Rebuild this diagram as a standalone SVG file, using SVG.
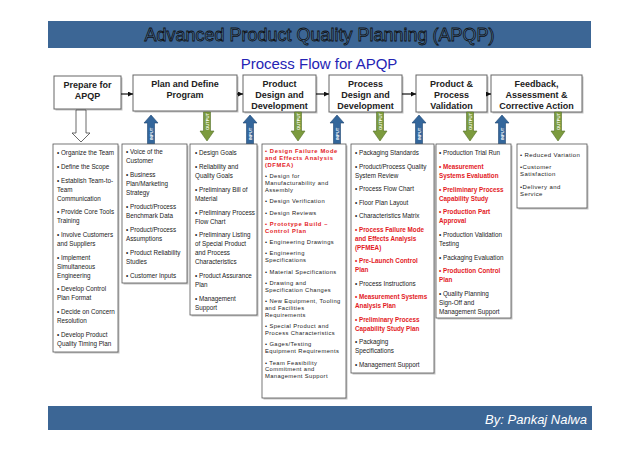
<svg xmlns="http://www.w3.org/2000/svg" xmlns:xlink="http://www.w3.org/1999/xlink" width="638" height="452" viewBox="0 0 638 452">
<style>
  .bar { fill: #3c6695; }
  .title { font-family: "Liberation Sans", Arial, sans-serif; font-size: 18px; fill: #4a76a6; stroke: #111; stroke-width: 0.8px; text-anchor: middle; }
  .sub { font-family: "Liberation Sans", Arial, sans-serif; font-size: 15px; fill: #2424b4; text-anchor: middle; }
  .by { font-family: "Liberation Sans", Arial, sans-serif; font-size: 13px; font-style: italic; fill: #ffffff; text-anchor: end; }
  .sbox { fill: #ffffff; stroke: #666; stroke-width: 1; }
  .shadow { fill: #c4c4c4; }
  .stxt { font-family: "Liberation Sans", Arial, sans-serif; font-size: 9px; font-weight: bold; fill: #222; text-anchor: middle; }
  .lbox { fill: #ffffff; stroke: #555; stroke-width: 0.8; }
  .t { font-family: "Liberation Sans", Arial, sans-serif; font-size: 6.3px; fill: #222; }
  .r { fill: #e3191e; font-weight: bold; }
  .d { font-size: 5.8px; letter-spacing: 0.4px; }
  .dr { letter-spacing: 0.6px; }
  .g { font-size: 6px; letter-spacing: 0.4px; }
  .conn { stroke: #111; stroke-width: 1.2; fill: none; }
  .in { fill: #33669b; stroke: #1f4470; stroke-width: 0.6; }
  .out { fill: #7c9b3e; stroke: #55702a; stroke-width: 0.6; }
  .hollow { fill: #ffffff; stroke: #444; stroke-width: 0.8; }
  .io { font-family: "Liberation Sans", Arial, sans-serif; font-size: 4.2px; font-weight: bold; fill: #ffffff; text-anchor: middle; }
</style>
<defs>
  <marker id="ah" markerWidth="5" markerHeight="5" refX="5" refY="2.5" orient="auto" markerUnits="userSpaceOnUse">
    <path d="M0,0 L5,2.5 L0,5 Z" fill="#111"/>
  </marker>
  <path id="inArrow" d="M0,0 L7,8 L3.5,8 L3.5,30 L-3.5,30 L-3.5,8 L-7,8 Z"/>
  <path id="outArrow" d="M-3.5,0 L3.5,0 L3.5,19 L7,19 L0,29 L-7,19 L-3.5,19 Z"/>
</defs>

<g id="header">
  <rect class="bar" x="48" y="21" width="543" height="27"/>
  <text class="title" x="319.5" y="41">Advanced Product Quality Planning (APQP)</text>
  <text class="sub" x="319" y="68.5">Process Flow for APQP</text>
</g>

<g id="stage-prepare">
  <rect class="shadow" x="55.5" y="77.5" width="67" height="33"/>
  <rect class="sbox" x="54" y="76" width="67" height="33"/>
  <text class="stxt" x="87.5" y="88">Prepare for</text>
  <text class="stxt" x="87.5" y="99">APQP</text>
</g>
<g id="stage-plan">
  <rect class="shadow" x="134.5" y="76.5" width="104" height="36"/>
  <rect class="sbox" x="133" y="75" width="104" height="36"/>
  <text class="stxt" x="185" y="86.5">Plan and Define</text>
  <text class="stxt" x="185" y="97.5">Program</text>
</g>
<g id="stage-product">
  <rect class="shadow" x="244.5" y="76.5" width="73" height="37"/>
  <rect class="sbox" x="243" y="75" width="73" height="37"/>
  <text class="stxt" x="279.5" y="86.5">Product</text>
  <text class="stxt" x="279.5" y="98">Design and</text>
  <text class="stxt" x="279.5" y="109">Development</text>
</g>
<g id="stage-process">
  <rect class="shadow" x="330.5" y="76.5" width="73" height="37"/>
  <rect class="sbox" x="329" y="75" width="73" height="37"/>
  <text class="stxt" x="365.5" y="86.5">Process</text>
  <text class="stxt" x="365.5" y="98">Design and</text>
  <text class="stxt" x="365.5" y="109">Development</text>
</g>
<g id="stage-validation">
  <rect class="shadow" x="417.5" y="76.5" width="71" height="37"/>
  <rect class="sbox" x="416" y="75" width="71" height="37"/>
  <text class="stxt" x="451.5" y="86.5">Product &amp;</text>
  <text class="stxt" x="451.5" y="98">Process</text>
  <text class="stxt" x="451.5" y="109">Validation</text>
</g>
<g id="stage-feedback">
  <rect class="shadow" x="492.5" y="76.5" width="91" height="37"/>
  <rect class="sbox" x="491" y="75" width="91" height="37"/>
  <text class="stxt" x="536.5" y="86.5">Feedback,</text>
  <text class="stxt" x="536.5" y="98">Assessment &amp;</text>
  <text class="stxt" x="536.5" y="108.5">Corrective Action</text>
</g>

<g id="connectors">
  <line class="conn" x1="121" y1="94" x2="133" y2="94" marker-end="url(#ah)"/>
  <line class="conn" x1="237" y1="94" x2="243" y2="94" marker-end="url(#ah)"/>
  <line class="conn" x1="316" y1="94" x2="329" y2="94" marker-end="url(#ah)"/>
  <line class="conn" x1="402" y1="94" x2="416" y2="94" marker-end="url(#ah)"/>
  <line class="conn" x1="487" y1="94" x2="491" y2="94" marker-end="url(#ah)"/>
  <path class="hollow" d="M76,110 L86,110 L86,133 L90,133 L81,142 L72,133 L76,133 Z"/>
  <use href="#inArrow" class="in" x="151" y="115"/>
  <text class="io" transform="translate(151,134) rotate(-90)" dy="1.5">INPUT</text>
  <use href="#outArrow" class="out" x="207" y="112"/>
  <text class="io" transform="translate(207,121.5) rotate(-90)" dy="1.5">OUTPUT</text>
  <use href="#inArrow" class="in" x="250" y="115"/>
  <text class="io" transform="translate(250,134) rotate(-90)" dy="1.5">INPUT</text>
  <use href="#outArrow" class="out" x="298" y="112"/>
  <text class="io" transform="translate(298,121.5) rotate(-90)" dy="1.5">OUTPUT</text>
  <use href="#inArrow" class="in" x="337" y="115"/>
  <text class="io" transform="translate(337,134) rotate(-90)" dy="1.5">INPUT</text>
  <use href="#outArrow" class="out" x="380" y="112"/>
  <text class="io" transform="translate(380,121.5) rotate(-90)" dy="1.5">OUTPUT</text>
  <use href="#inArrow" class="in" x="419" y="115"/>
  <text class="io" transform="translate(419,134) rotate(-90)" dy="1.5">INPUT</text>
  <use href="#outArrow" class="out" x="470" y="112"/>
  <text class="io" transform="translate(470,121.5) rotate(-90)" dy="1.5">OUTPUT</text>
  <use href="#inArrow" class="in" x="502" y="115"/>
  <text class="io" transform="translate(502,134) rotate(-90)" dy="1.5">INPUT</text>
  <use href="#outArrow" class="out" x="558" y="112"/>
  <text class="io" transform="translate(558,121.5) rotate(-90)" dy="1.5">OUTPUT</text>
</g>

<g id="list-prepare">
  <rect class="shadow" x="54.5" y="145.5" width="65" height="208"/>
  <rect class="lbox" x="53" y="144" width="65" height="208"/>
  <text class="t" x="57" y="155.2">• Organize the Team</text>
  <text class="t" x="57" y="168.9">• Define the Scope</text>
  <text class="t"><tspan x="57" y="182.6">• Establish Team-to-</tspan><tspan x="57" y="191.6">Team</tspan><tspan x="57" y="200.6">Communication</tspan></text>
  <text class="t"><tspan x="57" y="214.3">• Provide Core Tools</tspan><tspan x="57" y="223.3">Training</tspan></text>
  <text class="t"><tspan x="57" y="237">• Involve Customers</tspan><tspan x="57" y="246">and Suppliers</tspan></text>
  <text class="t"><tspan x="57" y="259.7">• Implement</tspan><tspan x="57" y="268.7">Simultaneous</tspan><tspan x="57" y="277.7">Engineering</tspan></text>
  <text class="t"><tspan x="57" y="291.4">• Develop Control</tspan><tspan x="57" y="300.4">Plan Format</tspan></text>
  <text class="t"><tspan x="57" y="314.1">• Decide on Concern</tspan><tspan x="57" y="323.1">Resolution</tspan></text>
  <text class="t"><tspan x="57" y="336.8">• Develop Product</tspan><tspan x="57" y="345.8">Quality Timing Plan</tspan></text>
</g>

<g id="list-plan">
  <rect class="shadow" x="123.5" y="145.5" width="65" height="139"/>
  <rect class="lbox" x="122" y="144" width="65" height="139"/>
  <text class="t"><tspan x="126" y="154.2">• Voice of the</tspan><tspan x="126" y="163.2">Customer</tspan></text>
  <text class="t"><tspan x="126" y="177.2">• Business</tspan><tspan x="126" y="186.2">Plan/Marketing</tspan><tspan x="126" y="195.2">Strategy</tspan></text>
  <text class="t"><tspan x="126" y="209.2">• Product/Process</tspan><tspan x="126" y="218.2">Benchmark Data</tspan></text>
  <text class="t"><tspan x="126" y="232.2">• Product/Process</tspan><tspan x="126" y="241.2">Assumptions</tspan></text>
  <text class="t"><tspan x="126" y="255.2">• Product Reliability</tspan><tspan x="126" y="264.2">Studies</tspan></text>
  <text class="t" x="126" y="278.2">• Customer Inputs</text>
</g>

<g id="list-product">
  <rect class="shadow" x="191.5" y="145.5" width="67" height="171"/>
  <rect class="lbox" x="190" y="144" width="67" height="171"/>
  <text class="t" x="195" y="155.2">• Design Goals</text>
  <text class="t"><tspan x="195" y="169">• Reliability and</tspan><tspan x="195" y="178">Quality Goals</tspan></text>
  <text class="t"><tspan x="195" y="191.8">• Preliminary Bill of</tspan><tspan x="195" y="200.8">Material</tspan></text>
  <text class="t"><tspan x="195" y="214.6">• Preliminary Process</tspan><tspan x="195" y="223.6">Flow Chart</tspan></text>
  <text class="t"><tspan x="195" y="237.4">• Preliminary Listing</tspan><tspan x="195" y="246.4">of Special Product</tspan><tspan x="195" y="255.4">and Process</tspan><tspan x="195" y="264.4">Characteristics</tspan></text>
  <text class="t"><tspan x="195" y="278.2">• Product Assurance</tspan><tspan x="195" y="287.2">Plan</tspan></text>
  <text class="t"><tspan x="195" y="301">• Management</tspan><tspan x="195" y="310">Support</tspan></text>
</g>

<g id="list-design">
  <rect class="shadow" x="263.5" y="145.5" width="84" height="254"/>
  <rect class="lbox" x="262" y="144" width="84" height="254"/>
  <text class="t d r dr"><tspan x="265" y="153">• Design Failure Mode</tspan><tspan x="265" y="159.9">and Effects Analysis</tspan><tspan x="265" y="166.8">(DFMEA)</tspan></text>
  <text class="t d"><tspan x="265" y="178.1">• Design for</tspan><tspan x="265" y="185">Manufacturability and</tspan><tspan x="265" y="191.9">Assembly</tspan></text>
  <text class="t d" x="265" y="203.2">• Design Verification</text>
  <text class="t d" x="265" y="214.5">• Design Reviews</text>
  <text class="t d r dr"><tspan x="265" y="225.8">• Prototype Build –</tspan><tspan x="265" y="232.7">Control Plan</tspan></text>
  <text class="t d" x="265" y="244">• Engineering Drawings</text>
  <text class="t d"><tspan x="265" y="255.3">• Engineering</tspan><tspan x="265" y="262.2">Specifications</tspan></text>
  <text class="t d" x="265" y="273.5">• Material Specifications</text>
  <text class="t d"><tspan x="265" y="284.8">• Drawing and</tspan><tspan x="265" y="291.7">Specification Changes</tspan></text>
  <text class="t d"><tspan x="265" y="303">• New Equipment, Tooling</tspan><tspan x="265" y="309.9">and Facilities</tspan><tspan x="265" y="316.8">Requirements</tspan></text>
  <text class="t d"><tspan x="265" y="328.1">• Special Product and</tspan><tspan x="265" y="335">Process Characteristics</tspan></text>
  <text class="t d"><tspan x="265" y="346.3">• Gages/Testing</tspan><tspan x="265" y="353.2">Equipment Requirements</tspan></text>
  <text class="t d"><tspan x="265" y="364.5">• Team Feasibility</tspan><tspan x="265" y="371.4">Commitment and</tspan><tspan x="265" y="378.3">Management Support</tspan></text>
</g>

<g id="list-process">
  <rect class="shadow" x="352.5" y="145.5" width="83" height="229"/>
  <rect class="lbox" x="351" y="144" width="83" height="229"/>
  <text class="t" x="355" y="155.2">• Packaging Standards</text>
  <text class="t"><tspan x="355" y="168.7">• Product/Process Quality</tspan><tspan x="355" y="177.7">System Review</tspan></text>
  <text class="t" x="355" y="191.2">• Process Flow Chart</text>
  <text class="t" x="355" y="204.7">• Floor Plan Layout</text>
  <text class="t" x="355" y="218.2">• Characteristics Matrix</text>
  <text class="t r"><tspan x="355" y="231.7">• Process Failure Mode</tspan><tspan x="355" y="240.7">and Effects Analysis</tspan><tspan x="355" y="249.7">(PFMEA)</tspan></text>
  <text class="t r"><tspan x="355" y="263.2">• Pre-Launch Control</tspan><tspan x="355" y="272.2">Plan</tspan></text>
  <text class="t" x="355" y="285.7">• Process Instructions</text>
  <text class="t r"><tspan x="355" y="299.2">• Measurement Systems</tspan><tspan x="355" y="308.2">Analysis Plan</tspan></text>
  <text class="t r"><tspan x="355" y="321.7">• Preliminary Process</tspan><tspan x="355" y="330.7">Capability Study Plan</tspan></text>
  <text class="t"><tspan x="355" y="344.2">• Packaging</tspan><tspan x="355" y="353.2">Specifications</tspan></text>
  <text class="t" x="355" y="366.7">• Management Support</text>
</g>

<g id="list-validation">
  <rect class="shadow" x="437.5" y="145.5" width="75" height="174"/>
  <rect class="lbox" x="436" y="144" width="75" height="174"/>
  <text class="t" x="439" y="155.2">• Production Trial Run</text>
  <text class="t r"><tspan x="439" y="168.9">• Measurement</tspan><tspan x="439" y="177.9">Systems Evaluation</tspan></text>
  <text class="t r"><tspan x="439" y="191.6">• Preliminary Process</tspan><tspan x="439" y="200.6">Capability Study</tspan></text>
  <text class="t r"><tspan x="439" y="214.3">• Production Part</tspan><tspan x="439" y="223.3">Approval</tspan></text>
  <text class="t"><tspan x="439" y="237">• Production Validation</tspan><tspan x="439" y="246">Testing</tspan></text>
  <text class="t" x="439" y="259.7">• Packaging Evaluation</text>
  <text class="t r"><tspan x="439" y="273.4">• Production Control</tspan><tspan x="439" y="282.4">Plan</tspan></text>
  <text class="t"><tspan x="439" y="296.1">• Quality Planning</tspan><tspan x="439" y="305.1">Sign-Off and</tspan><tspan x="439" y="314.1">Management Support</tspan></text>
</g>

<g id="list-feedback">
  <rect class="shadow" x="518.5" y="145.5" width="70" height="64"/>
  <rect class="lbox" x="517" y="144" width="70" height="64"/>
  <text class="t g" x="520" y="157.2">• Reduced Variation</text>
  <text class="t g"><tspan x="520" y="169.4">•Customer</tspan><tspan x="520" y="176.2">Satisfaction</tspan></text>
  <text class="t g"><tspan x="520" y="188.8">•Delivery and</tspan><tspan x="520" y="195.6">Service</tspan></text>
</g>

<g id="footer">
  <rect class="bar" x="48" y="406" width="544" height="24"/>
  <text class="by" x="587" y="423.5">By: Pankaj Nalwa</text>
</g>
</svg>
